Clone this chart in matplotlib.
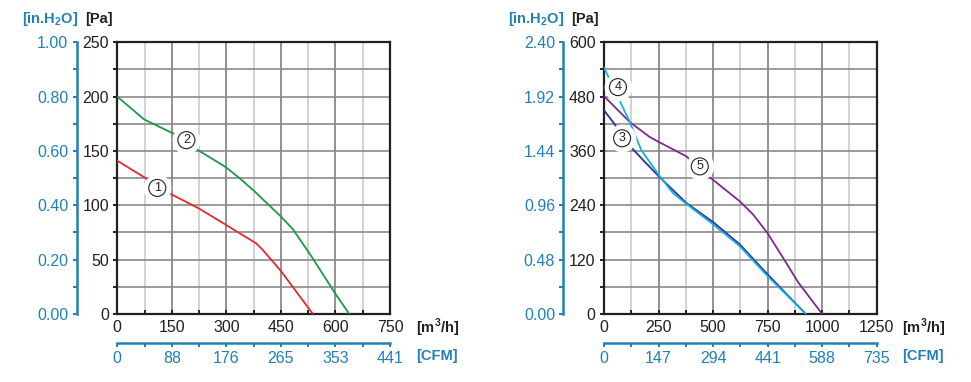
import matplotlib.pyplot as plt
from matplotlib.ticker import MultipleLocator

plt.rcParams['font.family'] = ['Liberation Sans', 'DejaVu Sans']
plt.rcParams['mathtext.fontset'] = 'custom'
plt.rcParams['mathtext.rm'] = 'Liberation Sans'
plt.rcParams['mathtext.bf'] = 'Liberation Sans:bold'

BLUE = '#2180b9'
INK = '#231f20'
TICK_FS = 11.5

# left chart: fans 1 and 2
fan1_q = [0, 83, 138, 225, 299, 382, 400, 449, 538]
fan1_p = [141, 124, 112, 97, 82, 65, 59, 40, 0]
fan2_q = [0, 74, 170, 216, 299, 336, 377, 449, 483, 534, 599, 638]
fan2_p = [200, 179, 163.5, 152, 135, 125, 113, 90, 78, 53, 19, 0]

# right chart: fans 3, 4 and 5
fan3_q = [0, 41, 125, 179, 251, 378, 500, 622, 749, 925]
fan3_p = [450, 424, 368, 340, 304, 245, 203, 154, 88, 0]
fan4_q = [0, 64, 118, 171, 251, 316, 378, 500, 622, 749, 925]
fan4_p = [544, 479, 424, 362, 307, 267, 243, 198, 150, 84, 0]
fan5_q = [0, 118, 209, 251, 378, 477, 622, 683, 749, 821, 890, 1000]
fan5_p = [481, 424, 391, 380, 348, 305, 249, 220, 179, 124, 70, 0]

left_pa_ticks = [0, 50, 100, 150, 200, 250]
left_inh2o = ['0.00', '0.20', '0.40', '0.60', '0.80', '1.00']
left_m3h_ticks = [0, 150, 300, 450, 600, 750]
left_cfm = ['0', '88', '176', '265', '353', '441']

right_pa_ticks = [0, 120, 240, 360, 480, 600]
right_inh2o = ['0.00', '0.48', '0.96', '1.44', '1.92', '2.40']
right_m3h_ticks = [0, 250, 500, 750, 1000, 1250]
right_cfm = ['0', '147', '294', '441', '588', '735']

W, H = 971, 382
fig = plt.figure(figsize=(W / 100, H / 100), dpi=100)


def fx(px):
    return px / W


def fy(py):
    return 1 - py / H


def setup(ax, xticks, yticks, cfm, inh2o):
    xmax, ymax = xticks[-1], yticks[-1]
    xstep, ystep = xticks[1], yticks[1]
    ax.set_xlim(0, xmax)
    ax.set_ylim(0, ymax)
    ax.set_xticks(xticks)
    ax.set_yticks(yticks)
    ax.xaxis.set_minor_locator(MultipleLocator(xstep / 2))
    ax.yaxis.set_minor_locator(MultipleLocator(ystep / 2))
    for x in xticks[1:-1]:
        ax.axvline(x, color='#7f7f7f', lw=1.2, zorder=1)
    for i in range(len(xticks) - 1):
        ax.axvline(xticks[i] + xstep / 2, color='#cbcbcb', lw=1.2, zorder=1)
    for i in range(1, 2 * (len(yticks) - 1)):
        ax.axhline(i * ystep / 2, color='#8a8a8a', lw=1.2, zorder=1)
    for s in ax.spines.values():
        s.set_linewidth(1.6)
        s.set_color(INK)
    ax.tick_params(axis='x', which='both', direction='in', length=3, width=1.4,
                   pad=4, labelsize=TICK_FS, colors=INK)
    ax.tick_params(axis='y', which='both', direction='out', length=3, width=1.4,
                   pad=3, labelsize=TICK_FS, colors=INK)

    sy = ax.secondary_yaxis(-0.149)
    sy.set_yticks(yticks, labels=inh2o)
    sy.yaxis.set_minor_locator(MultipleLocator(ystep / 2))
    sy.spines['left'].set_color(BLUE)
    sy.spines['left'].set_linewidth(1.8)
    sy.tick_params(which='both', direction='out', length=3, width=1.4, pad=3,
                   labelsize=TICK_FS, colors=BLUE)

    sx = ax.secondary_xaxis(-0.106)
    sx.set_xticks(xticks, labels=cfm)
    sx.xaxis.set_minor_locator(MultipleLocator(xstep / 2))
    sx.spines['bottom'].set_color(BLUE)
    sx.spines['bottom'].set_linewidth(1.8)
    sx.tick_params(which='both', direction='out', length=3, width=1.4, pad=3,
                   labelsize=TICK_FS, colors=BLUE)


def tag(ax, x, y, s):
    ax.plot([x], [y], 'o', ms=19, color='white', zorder=4)
    ax.text(x, y, s, ha='center', va='center', fontsize=9, color=INK, zorder=5,
            bbox=dict(boxstyle='circle,pad=0.2', fc='white', ec=INK, lw=0.8))


ax1 = fig.add_axes([fx(117.3), fy(314), fx(272.7), 271.7 / H])
setup(ax1, left_m3h_ticks, left_pa_ticks, left_cfm, left_inh2o)
ax1.plot(fan1_q, fan1_p, color='#e52a2d', lw=1.3, zorder=3)
ax1.plot(fan2_q, fan2_p, color='#1a9a48', lw=1.3, zorder=3)
tag(ax1, 110, 116, '1')
tag(ax1, 190, 160, '2')

ax2 = fig.add_axes([fx(604), fy(314), fx(272.7), 271.7 / H])
setup(ax2, right_m3h_ticks, right_pa_ticks, right_cfm, right_inh2o)
ax2.plot(fan5_q, fan5_p, color='#7d2a8e', lw=1.3, zorder=3)
ax2.plot(fan3_q, fan3_p, color='#2e3190', lw=1.3, zorder=3)
ax2.plot(fan4_q, fan4_p, color='#16aee6', lw=1.3, zorder=3)
tag(ax2, 83, 388, '3')
tag(ax2, 64, 501, '4')
tag(ax2, 439, 326, '5')

for x0, xp, xm in [(22, 85, 416), (508, 571, 902)]:
    fig.text(fx(x0), fy(19), r'[in.H$_\mathbf{2}$O]', color=BLUE, fontsize=10.5,
             fontweight='bold', va='center', ha='left')
    fig.text(fx(xp), fy(19), '[Pa]', color=INK, fontsize=10.5,
             fontweight='bold', va='center', ha='left')
    fig.text(fx(xm), fy(328), r'[m$^\mathbf{3}$/h]', color=INK, fontsize=10.5,
             fontweight='bold', va='center', ha='left')
    fig.text(fx(xm), fy(356), '[CFM]', color=BLUE, fontsize=10.5,
             fontweight='bold', va='center', ha='left')

fig.savefig('out.png', dpi=100)
